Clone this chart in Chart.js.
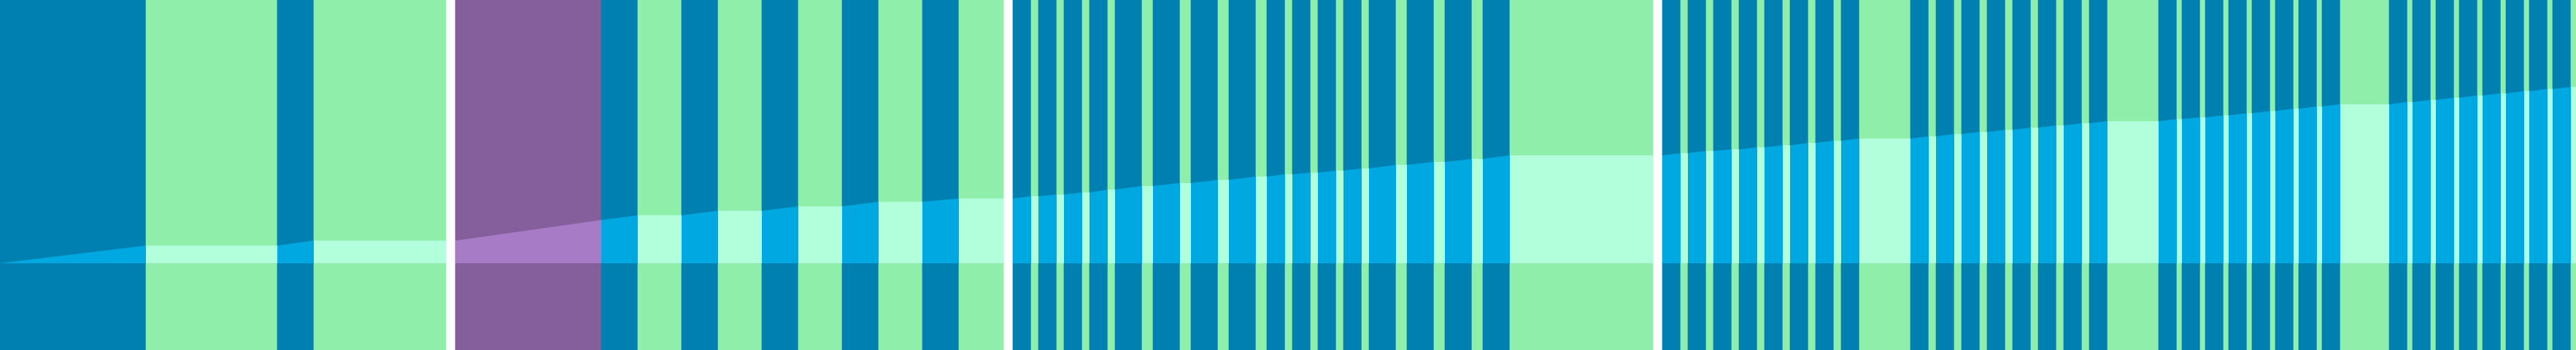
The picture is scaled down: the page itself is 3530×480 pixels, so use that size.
<!DOCTYPE html>
<html><head><meta charset="utf-8">
<script src="https://cdn.jsdelivr.net/npm/chart.js@4/dist/chart.umd.min.js"></script>
<style>html,body{margin:0;padding:0;background:#fff;overflow:hidden}#wrap{width:3530px;height:480px}</style>
</head><body><div id="wrap"><canvas id="c" width="3530" height="480"></canvas></div>
<script>
// Bands (x ranges) and their state
const bandStart = [0,200,380,430,
  624,824,874,934,984,1044,1094,1154,1204,1264,1314,
  1388,1413,1423,1448,1458,1483,1493,1518,1528,1565,1580,1617,1632,1669,1684,1721,1736,1761,1771,1796,1806,1831,1841,1866,1876,1913,1928,1965,1980,2017,2032,2069,
  2278,2303,2313,2338,2348,2373,2383,2408,2418,2443,2453,2478,2488,2513,2523,2548,
  2618,2643,2653,2678,2688,2713,2723,2748,2758,2783,2793,2818,2828,2853,2863,2888,
  2958,2983,2990,3015,3022,3047,3054,3079,3086,3111,3118,3143,3150,3175,3182,3207,
  3274,3299,3306,3331,3338,3363,3370,3395,3402,3427,3434,3459,3466,3491,3498,3523];
const bandEnd = [200,380,430,611,
  824,874,934,984,1044,1094,1154,1204,1264,1314,1375,
  1413,1423,1448,1458,1483,1493,1518,1528,1565,1580,1617,1632,1669,1684,1721,1736,1761,1771,1796,1806,1831,1841,1866,1876,1913,1928,1965,1980,2017,2032,2069,2265,
  2303,2313,2338,2348,2373,2383,2408,2418,2443,2453,2478,2488,2513,2523,2548,2618,
  2643,2653,2678,2688,2713,2723,2748,2758,2783,2793,2818,2828,2853,2863,2888,2958,
  2983,2990,3015,3022,3047,3054,3079,3086,3111,3118,3143,3150,3175,3182,3207,3274,
  3299,3306,3331,3338,3363,3370,3395,3402,3427,3434,3459,3466,3491,3498,3523,3530];
const bandState = ['B','G','B','G',
  'P','B','G','B','G','B','G','B','G','B','G',
  'B','G','B','G','B','G','B','G','B','G','B','G','B','G','B','G','B','G','B','G','B','G','B','G','B','G','B','G','B','G','B','G',
  'B','G','B','G','B','G','B','G','B','G','B','G','B','G','B','G',
  'B','G','B','G','B','G','B','G','B','G','B','G','B','G','B','G',
  'B','G','B','G','B','G','B','G','B','G','B','G','B','G','B','G',
  'B','G','B','G','B','G','B','G','B','G','B','G','B','G','B','G'];

// Cumulative line (x, value)
const lineX = [0,200,380,430,611,
  624,824,874,934,984,1044,1094,1154,1204,1264,1314,1375,
  1388,1413,1423,1448,1458,1483,1493,1518,1528,1565,1580,1617,1632,1669,1684,1721,1736,1761,1771,1796,1806,1831,1841,1866,1876,1913,1928,1965,1980,2017,2032,2069,2265,
  2278,2303,2313,2338,2348,2373,2383,2408,2418,2443,2453,2478,2488,2513,2523,2548,2618,2643,2653,2678,2688,2713,2723,2748,2758,2783,2793,2818,2828,2853,2863,2888,2958,2983,2990,3015,3022,3047,3054,3079,3086,3111,3118,3143,3150,3175,3182,3207,3274,3299,3306,3331,3338,3363,3370,3395,3402,3427,3434,3459,3466,3491,3498,3523,3530];
const lineY = [0,24.3,24.3,31,31,
  31,59.3,65.7,65.7,72,72,78,78,84.3,84.3,88.7,88.7,
  88.7,92,92,94.3,94.3,97,97,101,101,106,106,110,110,114.3,114.3,119,119,122,122,124.3,124.3,127,127,130,130,135,135,139,139,143,143,148,148,
  148,151,151,154,154,156.3,156.3,159,159,161.7,161.7,165,165,168,168,171,171,174,174,177.3,177.3,180,180,183,183,186,186,189,189,192,192,194.7,194.7,197.7,197.7,200,200,202.7,202.7,205.7,205.7,208.7,208.7,212,212,215,215,218,218,221,221,224,224,227,227,230,230,233,233,236,236,239,239,241.7,241.7];

const stateColor = {B:'#0080b0', G:'#8feeaa', P:'#855f9b'};
const stateFill  = {B:'#00a8e1', G:'#b2ffdc', P:'#a87bc7'};

function bandAt(x){
  for (let i=0;i<bandStart.length;i++) if (x>bandStart[i] && x<bandEnd[i]) return i;
  return -1;
}

const barData = bandStart.map((s,i)=>({x:[s,bandEnd[i]], y:'all'}));
const linePts = lineX.map((x,i)=>({x:x, y:lineY[i]}));

new Chart(document.getElementById('c'), {
  type: 'bar',
  data: {
    datasets: [
      {
        type: 'line',
        order: 1,
        data: linePts,
        xAxisID: 'x', yAxisID: 'y',
        borderWidth: 0,
        borderColor: 'rgba(0,0,0,0)',
        pointRadius: 0,
        tension: 0,
        fill: 'origin',
        backgroundColor: stateFill.B,
        segment: {
          backgroundColor: ctx => {
            const m = (lineX[ctx.p0DataIndex] + lineX[ctx.p1DataIndex]) / 2;
            const b = bandAt(m);
            return b < 0 ? 'rgba(0,0,0,0)' : stateFill[bandState[b]];
          }
        }
      },
      {
        type: 'bar',
        order: 2,
        indexAxis: 'y',
        data: barData,
        xAxisID: 'x', yAxisID: 'yBand',
        backgroundColor: bandState.map(s=>stateColor[s]),
        borderWidth: 0,
        categoryPercentage: 1,
        barPercentage: 1
      }
    ]
  },
  options: {
    responsive: false,
    maintainAspectRatio: false,
    animation: false,
    devicePixelRatio: 1,
    layout: {padding: 0},
    plugins: {legend:{display:false}, tooltip:{enabled:false}, title:{display:false}},
    scales: {
      x: {type:'linear', axis:'x', min:0, max:3530, offset:false, grid:{offset:false}, display:false},
      y: {type:'linear', axis:'y', min:-119, max:361, offset:false, display:false},
      yBand: {type:'category', axis:'y', labels:['all'], offset:true, display:false}
    }
  }
});
</script>
</body></html>
